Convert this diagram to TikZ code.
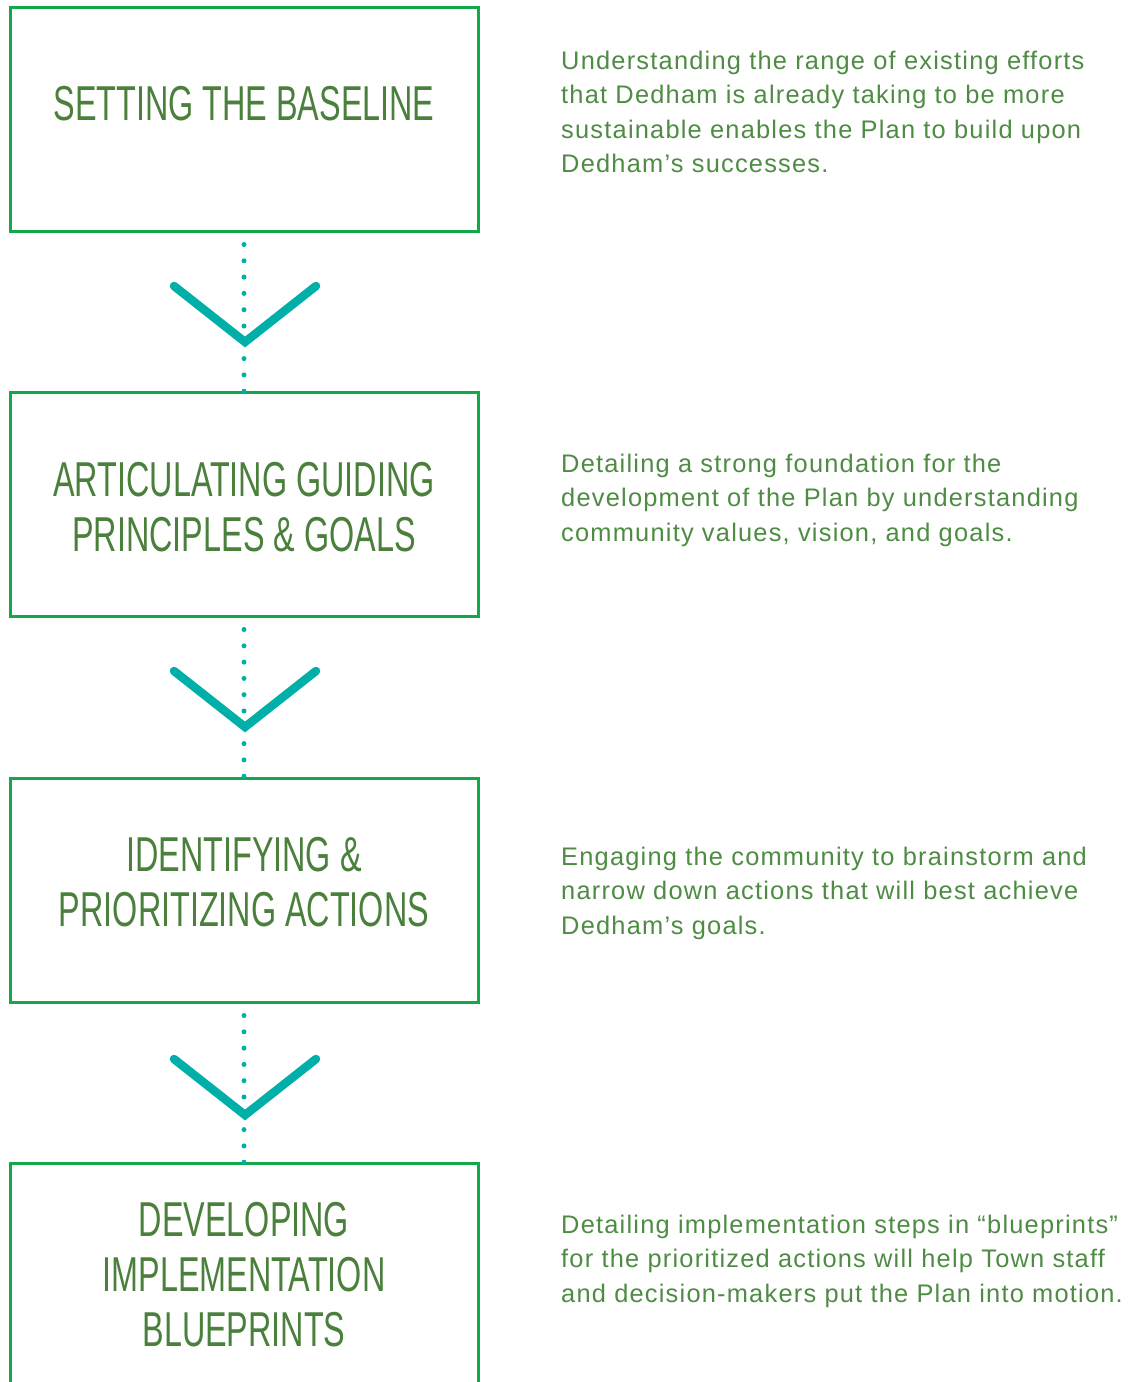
\documentclass[tikz,border=0pt]{standalone}
\usepackage{fontspec}
\setmainfont{Liberation Sans}
\newfontfamily\titlefont[FakeStretch=0.66]{Liberation Sans}
\newfontfamily\descfont[LetterSpace=4.8]{Liberation Sans}
\definecolor{boxgreen}{HTML}{12A94A}
\definecolor{titlegreen}{HTML}{4A803C}
\definecolor{descgreen}{HTML}{4E8C44}
\definecolor{teal}{HTML}{00B0A8}
\tikzset{
  stepbox/.style={draw=boxgreen, line width=3pt, rectangle, inner sep=0pt, minimum width=468pt, minimum height=224pt},
  steptitle/.style={text=titlegreen, align=center, inner sep=0pt, font=\titlefont\fontsize{49}{55}\selectfont},
  stepdesc/.style={text=descgreen, align=left, inner sep=0pt, anchor=base west, font=\descfont\fontsize{25.4}{34.5}\selectfont},
  dotline/.style={draw=teal, line width=5pt, line cap=round, dash pattern=on 0pt off 16.3pt, shorten <=12pt, shorten >=-2pt},
  chev/.style={draw=teal, line width=8.5pt, line cap=round, line join=miter},
}
\begin{document}
\begin{tikzpicture}[x=1pt,y=-1pt]
\clip (0,0) rectangle (1141,1382);
\fill[white] (0,0) rectangle (1141,1382);
% boxes
\node[stepbox] (b1) at (244,119) {};
\node[stepbox] (b2) at (244,504) {};
\node[stepbox] (b3) at (244,890) {};
\node[stepbox, minimum height=240pt] (b4) at (244,1283) {};
% titles
\node[steptitle] (t1) at (244,104) {SETTING THE BASELINE};
\node[steptitle] (t2) at (244,507.5) {ARTICULATING GUIDING\\PRINCIPLES \& GOALS};
\node[steptitle] (t3) at (244,882.5) {IDENTIFYING \&\\PRIORITIZING ACTIONS};
\node[steptitle] (t4) at (244,1275) {DEVELOPING\\IMPLEMENTATION\\BLUEPRINTS};
% descriptions (base anchor = baseline of the last line)
\node[stepdesc] (d1) at (561,172.5) {Understanding the range of existing efforts\\that Dedham is already taking to be more\\sustainable enables the Plan to build upon\\Dedham’s successes.};
\node[stepdesc] (d2) at (561,541) {Detailing a strong foundation for the\\development of the Plan by understanding\\community values, vision, and goals.};
\node[stepdesc] (d3) at (561,934) {Engaging the community to brainstorm and\\narrow down actions that will best achieve\\Dedham’s goals.};
\node[stepdesc] (d4) at (561,1302) {Detailing implementation steps in “blueprints”\\for the prioritized actions will help Town staff\\and decision-makers put the Plan into motion.};
% dotted connectors
\draw[dotline] (b1.south) -- (b2.north);
\draw[dotline] (b2.south) -- (b3.north);
\draw[dotline] (b3.south) -- (b4.north);
% chevrons
\coordinate (c1) at (245,342);
\coordinate (c2) at (245,727);
\coordinate (c3) at (245,1115);
\foreach \c in {c1,c2,c3}{
  \draw[chev] ([shift={(-71,-56)}]\c) -- (\c) -- ([shift={(71,-56)}]\c);
}
\end{tikzpicture}
\end{document}
